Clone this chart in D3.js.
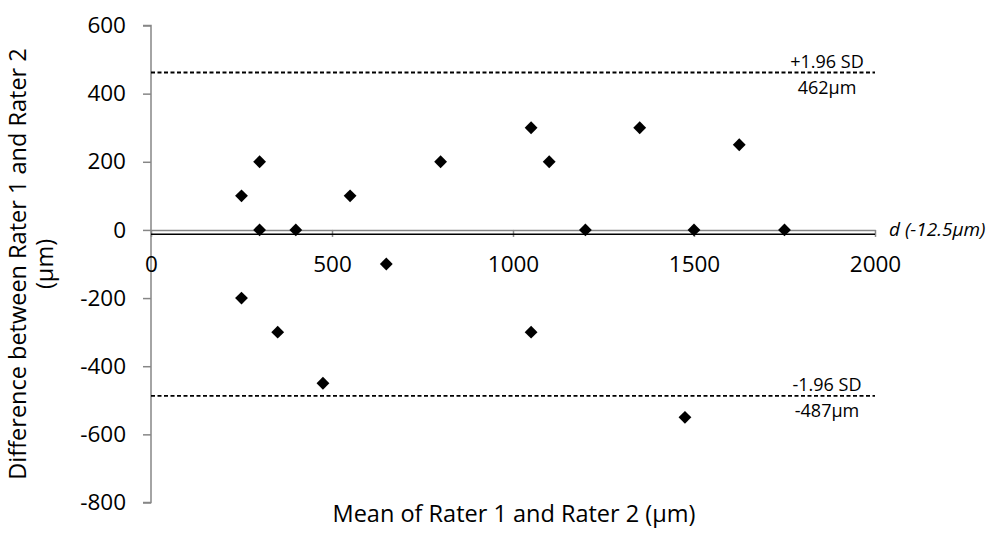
<!DOCTYPE html>
<html>
<head>
<meta charset="utf-8">
<script src="https://cdn.jsdelivr.net/npm/d3@7"></script>
<style>
	body { margin: 0; background: #fff; }
	svg { display: block; font-family: "Open Sans", sans-serif; }
</style>
</head>
<body>
<svg id="chart" width="992" height="536"></svg>
<script>

// Bland-Altman data: mean of raters vs difference
var meanValues = [250, 250, 300, 300, 350, 400, 475, 550, 650, 800, 1050, 1050, 1100, 1200, 1350, 1475, 1500, 1625, 1750];
var diffValues = [100, -200, 200, 0, -300, 0, -450, 100, -100, 200, 300, -300, 200, 0, 300, -550, 0, 250, 0];

var xTicks = [0, 500, 1000, 1500, 2000];
var yTicks = [600, 400, 200, 0, -200, -400, -600, -800];

var meanDiff = -12.5;
var upperLimit = 462;
var lowerLimit = -487;

var svg = d3.select("#chart");

var x = d3.scaleLinear().domain([0, 2000]).range([151, 875]);
var y = d3.scaleLinear().domain([-800, 600]).range([502.5, 25.5]);

var axisColor = "#868686";
var plainFormat = function (d) { return String(d); };

// y axis
var yAxis = svg.append("g")
	.attr("transform", "translate(" + x(0) + ",0)")
	.call(d3.axisLeft(y).tickValues(yTicks).tickSize(8).tickFormat(plainFormat));

yAxis.select(".domain").attr("stroke", axisColor).attr("stroke-width", 1.5).attr("d", "M-8," + y(600) + "H0V" + y(-800) + "H-8");
yAxis.selectAll(".tick line").attr("stroke", axisColor).attr("stroke-width", 1.5);
yAxis.selectAll(".tick text")
	.attr("x", -25)
	.style("font-size", "22.5px")
	.style("font-family", "Open Sans")
	.attr("fill", "#000");

// x axis sits at y = 0
var xAxis = svg.append("g")
	.attr("transform", "translate(0," + y(0) + ")")
	.call(d3.axisBottom(x).tickValues(xTicks).tickSize(7).tickSizeOuter(0).tickFormat(plainFormat));

xAxis.select(".domain").attr("stroke", axisColor).attr("stroke-width", 1.5);
xAxis.selectAll(".tick line").attr("stroke", axisColor).attr("stroke-width", 1.5);
xAxis.selectAll(".tick text")
	.attr("y", 26)
	.attr("dy", "0.71em")
	.style("font-size", "22.5px")
	.style("font-family", "Open Sans")
	.attr("fill", "#000");

// mean difference line
svg.append("line")
	.attr("x1", x(0)).attr("x2", x(2000))
	.attr("y1", y(meanDiff)).attr("y2", y(meanDiff))
	.attr("stroke", "#000")
	.attr("stroke-width", 1.6);

svg.append("text")
	.attr("x", 889)
	.attr("y", y(meanDiff) + 2)
	.style("font-size", "19px")
	.style("font-style", "italic")
	.text("d (-12.5\u00b5m)");

// limits of agreement
var limits = [
	{value: upperLimit, top: "+1.96 SD", bottom: "462\u00b5m"},
	{value: lowerLimit, top: "-1.96 SD", bottom: "-487\u00b5m"}
];

var lim = svg.selectAll(".limit")
	.data(limits)
	.enter().append("g")
	.attr("class", "limit");

lim.append("line")
	.attr("x1", x(0)).attr("x2", x(2000))
	.attr("y1", function (d) { return y(d.value); })
	.attr("y2", function (d) { return y(d.value); })
	.attr("stroke", "#000")
	.attr("stroke-width", 1.8)
	.attr("stroke-dasharray", "4,2.5");

lim.append("text")
	.attr("x", 827)
	.attr("y", function (d) { return y(d.value) - 5; })
	.style("font-size", "18px")
	.style("text-anchor", "middle")
	.text(function (d) { return d.top; });

lim.append("text")
	.attr("x", 827)
	.attr("y", function (d) { return y(d.value) + 21; })
	.style("font-size", "18px")
	.style("text-anchor", "middle")
	.text(function (d) { return d.bottom; });

// points
var diamond = d3.symbol().type(d3.symbolDiamond2).size(105);

svg.selectAll(".pt")
	.data(meanValues)
	.enter().append("path")
	.attr("class", "pt")
	.attr("d", diamond)
	.attr("fill", "#000")
	.attr("transform", function (d, i) {
		return "translate(" + x(d) + "," + y(diffValues[i]) + ")";
	});

// axis titles
svg.append("text")
	.attr("x", 514)
	.attr("y", 522)
	.style("font-size", "23.5px")
	.style("text-anchor", "middle")
	.text("Mean of Rater 1 and Rater 2 (\u00b5m)");

var yTitle = svg.append("text")
	.attr("transform", "translate(26,264) rotate(-90)")
	.style("font-size", "23.5px")
	.style("text-anchor", "middle");

yTitle.append("tspan").attr("x", 0).attr("y", 0).text("Difference between Rater 1 and Rater 2");
yTitle.append("tspan").attr("x", 0).attr("y", 27).text("(\u00b5m)");

</script>
</body>
</html>
